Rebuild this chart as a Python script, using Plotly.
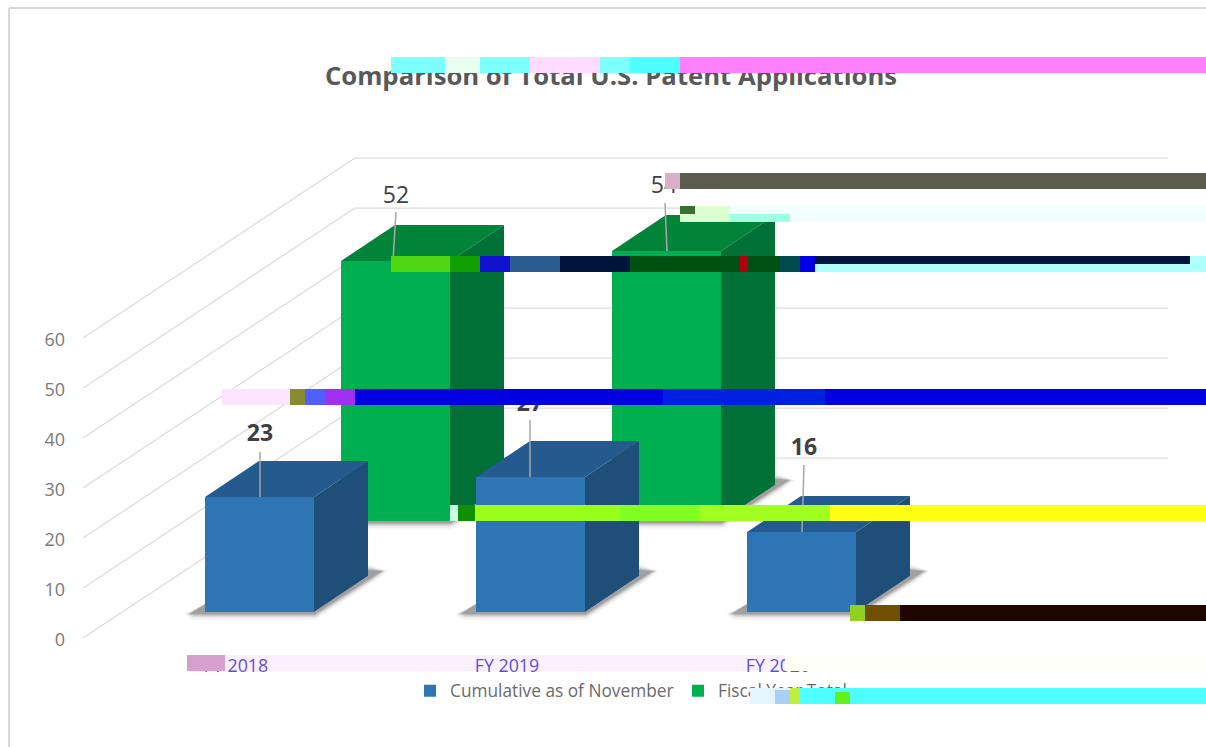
import plotly.graph_objects as go

# ---- data ----
categories = ["FY 2018", "FY 2019", "FY 2020"]
cumulative_values = [23, 27, 16]
fiscal_values = [52, 54]
y_ticks = [0, 10, 20, 30, 40, 50, 60]
series_names = ["Cumulative as of November", "Fiscal Year Total"]
title_text = "Comparison of Total U.S. Patent Applications"

# ---- geometry of the pseudo-3D drawing, in reference pixels ----
W, H = 1206, 747
ML, MB = 72, 107         # plot-area margins
PX_PER_CAT, PX_PER_UNIT = 271.0, 5.0
X0_PX, Y0_PX = 236.0, 638.0   # pixel of category 0 / of value 0 on the left wall
BAR_W = 109
DEPTH_X, DEPTH_Y = 54, 36
BLUE_LEFT, GREEN_LEFT = 205, 341
BLUE_BASE, GREEN_BASE = 612, 521
WALL_L, WALL_M, WALL_R, WALL_DY = 83, 355, 1168, 180


def xd(px):
    return (px - X0_PX) / PX_PER_CAT


def yd(py):
    return (Y0_PX - py) / PX_PER_UNIT


def px_x(px):
    return (px - ML) / (W - ML)


def px_y(py):
    return (H - MB - py) / (H - MB)


x_range = [xd(ML), xd(W)]
y_range = [yd(H - MB), yd(0)]

fig = go.Figure()
ink = "#404040"


def add_series(values, name, left, base_px, front, top, side, xa, ya):
    idx = list(range(len(values)))
    base = yd(base_px)
    # soft shadow: layered translucent polygons hugging the base of each box
    for alpha, g in ((0.04, 6), (0.06, 4.5), (0.08, 3), (0.10, 2), (0.13, 1), (0.16, 0)):
        for i in idx:
            l = left + i * PX_PER_CAT
            pts = [(l, -8), (l - 15 - g, 2), (l - 8 - g, 2 + g), (l + BAR_W + 1, 2 + g),
                   (l + BAR_W + DEPTH_X + 3, -34 + g), (l + BAR_W + DEPTH_X + 14 + g, -41),
                   (l + BAR_W + DEPTH_X, -42 - g),
                   (l + BAR_W + DEPTH_X, -DEPTH_Y), (l + BAR_W, 0), (l, 0)]
            fig.add_trace(go.Scatter(
                x=[xd(p[0]) for p in pts],
                y=[yd(base_px + p[1]) for p in pts],
                fill="toself", mode="none", showlegend=False, hoverinfo="skip",
                fillcolor=f"rgba(50,50,50,{alpha})", xaxis=xa, yaxis=ya))
    # front faces
    fig.add_trace(go.Bar(
        x=idx, y=values, base=base, name=name, marker=dict(color=front, line=dict(width=0)),
        width=BAR_W / PX_PER_CAT, offset=(left - X0_PX) / PX_PER_CAT,
        xaxis=xa, yaxis=ya, hovertemplate="%{y}<extra>" + name + "</extra>"))
    # top and side faces, computed from each value
    ddx, ddy = DEPTH_X / PX_PER_CAT, DEPTH_Y / PX_PER_UNIT
    bw = BAR_W / PX_PER_CAT
    for i, v in zip(idx, values):
        lx = xd(left) + i
        ty = base + v
        fig.add_trace(go.Scatter(
            x=[lx, lx + bw, lx + bw + ddx, lx + ddx], y=[ty, ty, ty + ddy, ty + ddy],
            fill="toself", fillcolor=top, mode="none", showlegend=False,
            hoverinfo="skip", xaxis=xa, yaxis=ya))
        fig.add_trace(go.Scatter(
            x=[lx + bw, lx + bw + ddx, lx + bw + ddx, lx + bw],
            y=[base, base + ddy, ty + ddy, ty],
            fill="toself", fillcolor=side, mode="none", showlegend=False,
            hoverinfo="skip", xaxis=xa, yaxis=ya))


add_series(fiscal_values, series_names[1], GREEN_LEFT, GREEN_BASE,
           "#00b050", "#00843a", "#007036", "x", "y")
add_series(cumulative_values, series_names[0], BLUE_LEFT, BLUE_BASE,
           "#2e75b6", "#245a8e", "#1f4e79", "x2", "y2")

# data labels and their leader lines (label centre and leader ends in pixels)
label_spots = [
    (260, 435, 260, 452, 260, 497, cumulative_values[0], True),
    (396, 197, 396, 212, 393, 261, fiscal_values[0], False),
    (530, 405, 530, 420, 530, 477, cumulative_values[1], True),
    (664, 187, 665, 203, 667, 251, fiscal_values[1], False),
    (804, 449, 804, 465, 802, 532, cumulative_values[2], True),
]
for lx, ly, x1, y1, x2, y2, val, bold in label_spots:
    fig.add_trace(go.Scatter(
        x=[xd(x1), xd(x2)], y=[yd(y1), yd(y2)], mode="lines",
        line=dict(color="#a6a6a6", width=1.5), showlegend=False, hoverinfo="skip",
        xaxis="x2", yaxis="y2"))
    fig.add_trace(go.Scatter(
        x=[xd(lx)], y=[yd(ly)], mode="text", text=[f"<b>{val}</b>" if bold else str(val)],
        textposition="middle center", cliponaxis=False,
        textfont=dict(family="Open Sans", size=23, color=ink),
        showlegend=False, hoverinfo="skip", xaxis="x2", yaxis="y2"))

shapes = []
# walls: one bent gridline per tick
for t in y_ticks:
    yl = t
    ym = t + WALL_DY / PX_PER_UNIT
    for a, b, c, d in ((WALL_L, yl, WALL_M, ym), (WALL_M, ym, WALL_R, ym)):
        shapes.append(dict(type="line", xref="x", yref="y", layer="below",
                           x0=xd(a), x1=xd(c), y0=b, y1=d,
                           line=dict(color="#dcdcdc", width=1.25)))
# outer frame of the picture
for x0, y0, x1, y1 in ((9, 8, W, 8), (9, 8, 9, H)):
    shapes.append(dict(type="line", xref="paper", yref="paper", layer="below",
                       x0=px_x(x0), x1=px_x(x1), y0=px_y(y0), y1=px_y(y1),
                       line=dict(color="#d9d9d9", width=2)))

# rendering-damage strips visible across the reference
under_labels = [(225, 785, 655, 671, "#fdf0fd")]
over_marks = [
    (665, 680, 173, 189, "#d8b0c8"), (680, W, 173, 189, "#5c5c4e"),
    (680, 695, 206, 214, "#3a7030"), (695, 730, 206, 214, "#e0ffd0"),
    (680, 730, 214, 222, "#d8ffd0"), (730, 790, 214, 222, "#a0ffe0"),
    (730, W, 206, 214, "#f2fffe"), (790, W, 214, 222, "#f2fffe"),
    (391, 450, 256, 272, "#50d810"), (450, 480, 256, 272, "#10a000"), (480, 510, 256, 272, "#1010d0"),
    (510, 560, 256, 272, "#2a5a90"), (560, 630, 256, 272, "#00143c"), (630, 740, 256, 272, "#005012"),
    (740, 748, 256, 272, "#b00010"), (748, 800, 256, 272, "#005012"), (780, 800, 256, 272, "#004a50"),
    (800, 815, 256, 272, "#0000e0"), (815, 1190, 256, 264, "#00143c"), (815, W, 264, 272, "#b0ffff"),
    (1190, W, 256, 264, "#b0ffff"),
    (222, 290, 389, 405, "#fbe4fc"), (290, 305, 389, 405, "#8a8a30"), (305, 325, 389, 405, "#5060ff"),
    (325, 355, 389, 405, "#a030f0"), (355, W, 389, 405, "#0000e0"), (663, 825, 389, 405, "#0020e0"),
    (450, 460, 505, 521, "#c8ffe0"), (458, 475, 505, 521, "#109000"), (475, 620, 505, 521, "#99ff1a"),
    (620, 700, 505, 521, "#80ff20"), (700, 830, 505, 521, "#a0ff20"), (830, W, 505, 521, "#ffff14"),
    (850, 865, 605, 621, "#90d020"), (865, 900, 605, 621, "#705000"), (900, W, 605, 621, "#1e0500"),
    (187, 225, 655, 671, "#d8a0d0"), (785, W, 655, 671, "#fffff6"),
]
over_text = [
    (391, 680, 57, 73, "#7dffff"), (445, 480, 57, 73, "#e8fff0"), (530, 600, 57, 73, "#ffdcff"),
    (630, 680, 57, 73, "#4dffff"), (680, W, 57, 73, "#ff80ff"),
    (750, 800, 688, 704, "#e4f4ff"), (775, 790, 690, 704, "#a8d0f0"),
    (790, 800, 688, 704, "#c0ee40"), (800, W, 688, 704, "#4dffff"), (835, 850, 692, 704, "#60f020"),
]
for layer, group in (("below", under_labels), ("above", over_marks)):
    for x0, x1, y0, y1, color in group:
        shapes.append(dict(type="rect", xref="paper", yref="paper", layer=layer,
                           x0=px_x(x0), x1=px_x(x1), y0=px_y(y0), y1=px_y(y1),
                           fillcolor=color, line=dict(width=0)))

# strips that lie over the title and the legend must sit in the annotation layer
annotations = [
    dict(xref="paper", yref="paper", x=px_x(x0), y=px_y(y0), xanchor="left", yanchor="top",
         width=x1 - x0, height=y1 - y0, text=" ", showarrow=False, bgcolor=color,
         borderwidth=0, borderpad=0, font=dict(size=1), captureevents=False)
    for x0, x1, y0, y1, color in over_text
]

axis_font = dict(family="Open Sans", size=18, color="#7a7a7a")
fig.update_layout(
    width=W, height=H, autosize=False,
    margin=dict(l=ML, r=0, t=0, b=MB, pad=0),
    paper_bgcolor="white", plot_bgcolor="rgba(0,0,0,0)",
    showlegend=True, barmode="overlay",
    title=dict(text=f"<b>{title_text}</b>", x=611 / W, xanchor="center", xref="container",
               y=1 - 76 / H, yanchor="middle",
               font=dict(family="Open Sans", size=25.7, color="#595959")),
    legend=dict(orientation="h", x=px_x(410), xanchor="left", y=px_y(691), yanchor="middle",
                traceorder="reversed", font=dict(family="Open Sans", size=17.3, color="#6a6a6a"),
                bgcolor="rgba(0,0,0,0)", itemwidth=30, entrywidth=223, entrywidthmode="pixels"),
    xaxis=dict(range=x_range, tickmode="array", tickvals=[0, 1, 2], ticktext=categories,
               showgrid=False, zeroline=False, showline=False, ticks="",
               tickfont=dict(family="Open Sans", size=17.8, color="#5a50d8"), ticklabelstandoff=13),
    yaxis=dict(range=y_range, tickmode="array", tickvals=y_ticks, showgrid=False,
               zeroline=False, showline=False, ticks="", tickfont=axis_font,
               ticklabelstandoff=6, ticklabelshift=2),
    xaxis2=dict(range=x_range, overlaying="x", visible=False),
    yaxis2=dict(range=y_range, overlaying="y", visible=False),
    shapes=shapes,
    annotations=annotations,
)

fig.write_html("out.html", config={"displayModeBar": False},
               post_script="document.body.style.margin='0';document.body.style.overflow='hidden';")
